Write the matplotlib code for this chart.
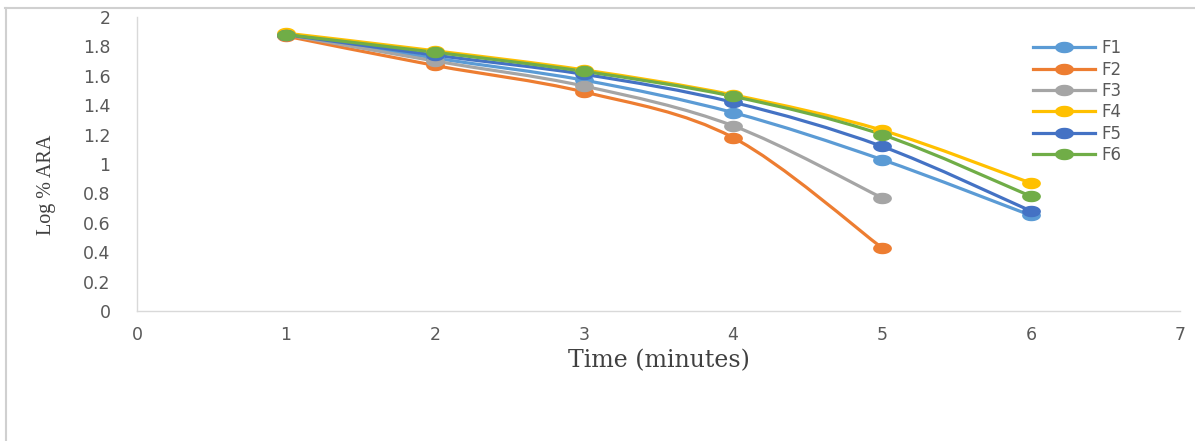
import numpy as np
import matplotlib
matplotlib.use('Agg')
import matplotlib.pyplot as plt
from matplotlib.path import Path
from matplotlib.patches import PathPatch
from matplotlib.lines import Line2D

# data
time_min = [1, 2, 3, 4, 5, 6]
series_names = ['F1', 'F2', 'F3', 'F4', 'F5', 'F6']
f1 = [1.88, 1.72, 1.57, 1.35, 1.03, 0.65]
f2 = [1.87, 1.67, 1.49, 1.18, 0.43]
f3 = [1.88, 1.70, 1.53, 1.26, 0.77]
f4 = [1.89, 1.77, 1.64, 1.47, 1.23, 0.87]
f5 = [1.88, 1.74, 1.61, 1.42, 1.12, 0.68]
f6 = [1.88, 1.76, 1.63, 1.46, 1.20, 0.78]
colors = ['#5B9BD5', '#ED7D31', '#A5A5A5', '#FFC000', '#4472C4', '#70AD47']

x_ticks = [0, 1, 2, 3, 4, 5, 6, 7]
y_ticks = [0, 0.2, 0.4, 0.6, 0.8, 1, 1.2, 1.4, 1.6, 1.8, 2]
y_tick_labels = ['0', '0.2', '0.4', '0.6', '0.8', '1', '1.2', '1.4', '1.6', '1.8', '2']


def smooth_path(xs, ys, t=1/6):
    # Excel-like smoothed line: catmull-rom segments as cubic beziers
    pts = np.column_stack([xs, ys]).astype(float)
    verts = [pts[0]]
    codes = [Path.MOVETO]
    n = len(pts)
    for i in range(n - 1):
        p0 = pts[i - 1] if i > 0 else pts[i]
        p1 = pts[i]
        p2 = pts[i + 1]
        p3 = pts[i + 2] if i + 2 < n else pts[i + 1]
        c1 = p1 + (p2 - p0) * t
        c2 = p2 - (p3 - p1) * t
        verts += [c1, c2, p2]
        codes += [Path.CURVE4] * 3
    return Path(verts, codes)


# the source picture is stretched sideways, so markers are wide ellipses
ang = np.linspace(0, 2 * np.pi, 40)
ellipse = Path(np.column_stack([np.cos(ang), 0.58 * np.sin(ang)]), closed=True)

fig = plt.figure(figsize=(11.95, 4.41), dpi=100)
ax = fig.add_axes([0.1146, 0.2948, 0.8728, 0.6667])

all_series = [f1, f2, f3, f4, f5, f6]
for name, vals, c in zip(series_names, all_series, colors):
    xs = time_min[:len(vals)]
    ax.add_patch(PathPatch(smooth_path(xs, vals), fill=False, edgecolor=c,
                           lw=2.3, capstyle='round', joinstyle='round'))
    ax.plot(xs, vals, linestyle='none', marker=ellipse, markersize=12.5,
            color=c, label=name)

ax.set_xlim(0, 7)
ax.set_ylim(0, 2)
ax.set_xticks(x_ticks)
ax.set_yticks(y_ticks)
ax.set_yticklabels(y_tick_labels)
ax.tick_params(length=0, labelsize=12.5, labelcolor='#595959')
ax.tick_params(axis='y', pad=19)
ax.tick_params(axis='x', pad=11)
for s in ['top', 'right']:
    ax.spines[s].set_visible(False)
for s in ['left', 'bottom']:
    ax.spines[s].set_color('#d9d9d9')
    ax.spines[s].set_linewidth(1)

ax.set_xlabel('Time (minutes)', family='DejaVu Serif', fontsize=17,
              color='#404040')
ax.xaxis.set_label_coords(0.5, -0.13)
ax.set_ylabel('Log % ARA', family='Liberation Serif', fontsize=14.5,
              color='#404040')
ax.yaxis.set_label_coords(-0.078, 0.43)

handles = [Line2D([], [], color=c, lw=2.3, marker=ellipse, markersize=12.5)
           for c in colors]
ax.legend(handles, series_names, loc='upper left', bbox_to_anchor=(0.845, 0.975),
          frameon=False, fontsize=12, handlelength=3.7, labelspacing=0.2,
          handletextpad=0.4, labelcolor='#595959')

# outer chart frame (top and left edges visible in the reference)
fig.add_artist(Line2D([0.004, 1.0], [0.982, 0.982], color='#d0d0d0', lw=1.5,
                      transform=fig.transFigure))
fig.add_artist(Line2D([0.005, 0.005], [0.0, 0.982], color='#d0d0d0', lw=1.5,
                      transform=fig.transFigure))

fig.savefig('out.png', dpi=100)
